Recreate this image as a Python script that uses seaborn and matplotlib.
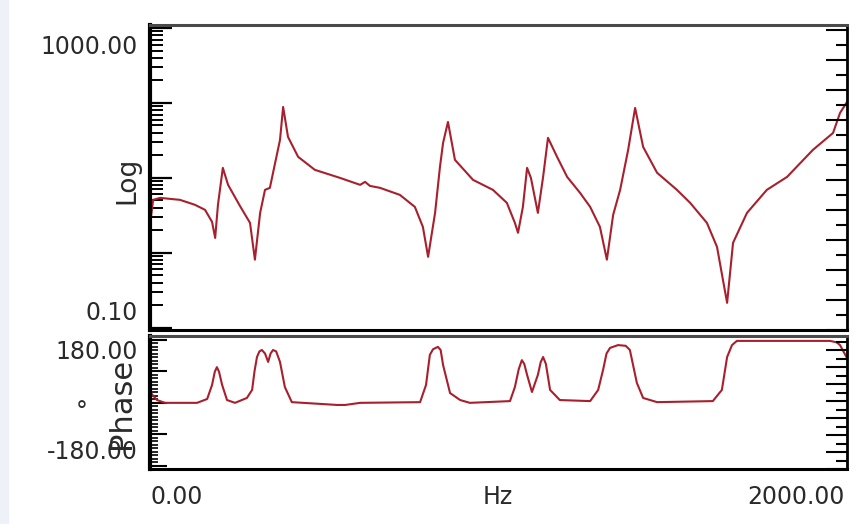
import numpy as np
import pandas as pd
import matplotlib
matplotlib.use("Agg")
import matplotlib.pyplot as plt
from matplotlib.ticker import LogLocator, MultipleLocator, NullFormatter
from matplotlib.patches import Rectangle
import seaborn as sns

# magnitude (log) trace
mag_freq = [0, 9, 29, 86, 129, 158, 178, 187, 195, 209, 224, 258, 287, 301, 316, 330,
            344, 359, 373, 382, 396, 425, 473, 545, 603, 617, 631, 660, 717, 760, 783,
            798, 818, 832, 841, 855, 875, 927, 984, 1024, 1047, 1056, 1070, 1082, 1093,
            1113, 1128, 1142, 1168, 1197, 1234, 1263, 1291, 1311, 1329, 1349, 1372,
            1392, 1415, 1455, 1512, 1550, 1598, 1627, 1644, 1656, 1673, 1713, 1770,
            1828, 1902, 1960, 1980, 2000]
mag_value = [2.36, 5.09, 5.41, 5.09, 4.37, 3.74, 2.59, 1.58, 4.37, 13.6, 8.07, 4.23,
             2.51, 0.81, 3.41, 6.92, 7.36, 15.8, 32.1, 88.4, 35.2, 19.1, 12.8, 10.0,
             8.07, 8.85, 7.82, 7.36, 5.93, 4.10, 2.22, 0.885, 3.41, 14.0, 29.3, 55.8,
             17.4, 9.4, 6.92, 4.64, 2.51, 1.85, 4.10, 13.6, 10.0, 3.41, 10.3, 34.2,
             19.1, 10.3, 6.31, 4.10, 2.22, 0.81, 3.21, 6.92, 23.6, 85.8, 25.9, 11.7,
             6.92, 4.64, 2.51, 1.20, 0.436, 0.215, 1.36, 3.41, 6.92, 10.3, 23.6, 39.8,
             73.6, 103.0]

# phase trace in degrees
ph_freq = [0, 20, 43, 135, 164, 178, 186, 192, 198, 207, 221, 244, 278, 293, 300, 307,
           314, 321, 330, 339, 346, 353, 362, 373, 387, 407, 537, 560, 603, 775, 792,
           803, 812, 826, 834, 841, 861, 890, 918, 1033, 1047, 1058, 1067, 1074, 1082,
           1096, 1113, 1121, 1128, 1136, 1148, 1176, 1263, 1286, 1300, 1310, 1320, 1343,
           1365, 1377, 1397, 1415, 1455, 1615, 1641, 1656, 1670, 1684, 1951, 1970, 1980,
           2000]
ph_deg = [30, 7, -1, -1, 10, 50, 88, 101, 88, 50, 7, -1, 13, 36, 90, 130,
          146, 150, 140, 116, 140, 150, 146, 116, 44, 1, -7, -7, -1, 1, 50,
          136, 152, 159, 150, 107, 27, 7, -1, 4, 44, 95, 121, 110, 79,
          30, 79, 115, 130, 110, 36, 7, 4, 36, 93, 140, 156, 164,
          162, 150, 56, 13, 1, 4, 36, 130, 164, 176, 176, 172, 164,
          127]

df_mag = pd.DataFrame({"Hz": mag_freq, "Log": mag_value})
df_ph = pd.DataFrame({"Hz": ph_freq, "Phase": ph_deg})

sns.set_style("white")
plt.rcParams['font.family'] = ['DejaVu Sans']

line_color = "#a81f2d"
text_color = "#2a2a2a"
W, H = 862, 524


def px_rect(l, t, r, b):
    return [l / W, 1 - b / H, (r - l) / W, (b - t) / H]


fig = plt.figure(figsize=(W / 100, H / 100), dpi=100)
fig.patch.set_facecolor("white")
fig.patches.append(Rectangle((0, 0), 8 / W, 1, transform=fig.transFigure,
                             color="#eef1f7", zorder=0))

ax_mag = fig.add_axes(px_rect(150, 25, 847, 330))
ax_ph = fig.add_axes(px_rect(150, 336, 847, 469))

sns.lineplot(data=df_mag, x="Hz", y="Log", ax=ax_mag, color=line_color,
             linewidth=1.5, sort=False, estimator=None)
ax_mag.set_yscale("log")
ax_mag.set_xlim(0, 2000)
ax_mag.set_ylim(10 ** -1.03, 10 ** 3.04)
ax_mag.yaxis.set_major_locator(LogLocator(base=10, numticks=10))
ax_mag.yaxis.set_minor_locator(LogLocator(base=10, subs=np.arange(2, 10), numticks=50))
ax_mag.yaxis.set_minor_formatter(NullFormatter())
ax_mag.tick_params(axis="y", which="major", direction="in", length=16, width=1.6,
                   color="black", labelleft=False)
ax_mag.tick_params(axis="y", which="minor", direction="in", length=9, width=1.4,
                   color="black", labelleft=False)
ax_mag.tick_params(axis="x", which="both", bottom=False, labelbottom=False)
ax_mag.set_xlabel("")
ax_mag.set_ylabel("")

sns.lineplot(data=df_ph, x="Hz", y="Phase", ax=ax_ph, color=line_color,
             linewidth=1.5, sort=False, estimator=None)
ax_ph.set_xlim(0, 2000)
ax_ph.set_ylim(-190, 190)
ax_ph.yaxis.set_major_locator(MultipleLocator(90))
ax_ph.yaxis.set_minor_locator(MultipleLocator(10))
ax_ph.xaxis.set_major_locator(MultipleLocator(500))
ax_ph.xaxis.set_minor_locator(MultipleLocator(100))
ax_ph.tick_params(axis="y", which="major", direction="in", length=12, width=1.5,
                  color="black", labelleft=False)
ax_ph.tick_params(axis="y", which="minor", direction="in", length=6, width=1.2,
                  color="black")
ax_ph.tick_params(axis="x", which="major", direction="in", length=13, width=1.4,
                  color="black", labelbottom=False)
ax_ph.tick_params(axis="x", which="minor", direction="in", length=4, width=1.4,
                  color="black")
ax_ph.set_xlabel("")
ax_ph.set_ylabel("")

# right hand tick rulers (plain pixel rulers, no values)
for ax, h, step in [(ax_mag, 305, 15), (ax_ph, 133, 8.5)]:
    tw = ax.twinx()
    tw.set_ylim(0, h)
    tw.yaxis.set_major_locator(MultipleLocator(step * 2))
    tw.yaxis.set_minor_locator(MultipleLocator(step))
    tw.tick_params(axis="y", which="major", direction="in", length=15, width=1.5,
                   color="black", labelright=False)
    tw.tick_params(axis="y", which="minor", direction="in", length=8, width=1.5,
                   color="black")
    for s in tw.spines.values():
        s.set_visible(False)

for ax in (ax_mag, ax_ph):
    ax.set_facecolor("white")
    ax.spines["left"].set_linewidth(3)
    ax.spines["left"].set_color("black")
    ax.spines["right"].set_linewidth(2)
    ax.spines["right"].set_color("black")
    ax.spines["top"].set_linewidth(2.2)
    ax.spines["top"].set_color("#4a4a4a")
    ax.spines["bottom"].set_linewidth(2.2)
    ax.spines["bottom"].set_color("black")
    for s in ax.spines.values():
        s.set_visible(True)

fs = 17
fig.text(138 / W, 1 - 47 / H, "1000.00", ha="right", va="center", fontsize=fs, color=text_color)
fig.text(138 / W, 1 - 313 / H, "0.10", ha="right", va="center", fontsize=fs, color=text_color)
fig.text(127 / W, 1 - 180 / H, "Log", ha="center", va="center", rotation=90, fontsize=19,
         color=text_color)
fig.text(138 / W, 1 - 352 / H, "180.00", ha="right", va="center", fontsize=fs, color=text_color)
fig.text(138 / W, 1 - 452 / H, "-180.00", ha="right", va="center", fontsize=fs, color=text_color)
fig.text(82 / W, 1 - 412 / H, "°", ha="center", va="center", fontsize=fs, color=text_color)
fig.text(122 / W, 1 - 403 / H, "Phase", ha="center", va="center", rotation=90, fontsize=22,
         color=text_color)
fig.text(150 / W, 1 - 497 / H, "0.00", ha="left", va="center", fontsize=fs, color=text_color)
fig.text(498 / W, 1 - 497 / H, "Hz", ha="center", va="center", fontsize=fs, color=text_color)
fig.text(845 / W, 1 - 497 / H, "2000.00", ha="right", va="center", fontsize=fs, color=text_color)

fig.savefig("out.png", dpi=100, facecolor=fig.get_facecolor())
